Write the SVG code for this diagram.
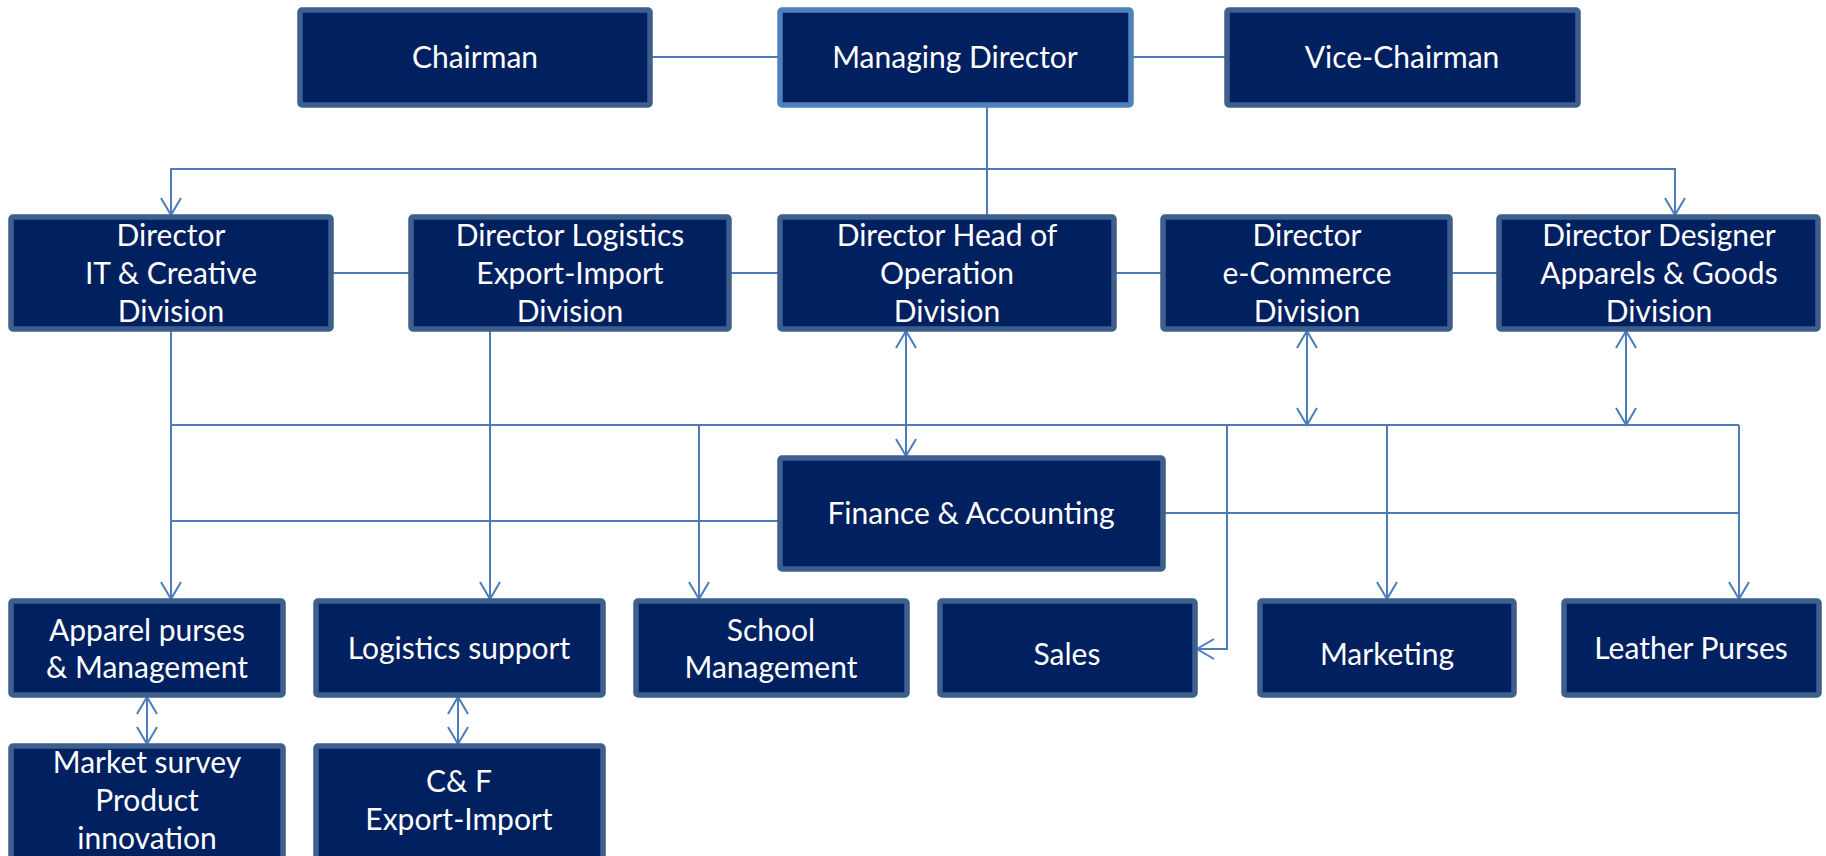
<svg xmlns="http://www.w3.org/2000/svg" width="1826" height="856" viewBox="0 0 1826 856">
<style>
.box{fill:#002060;stroke:#3c5f8d;stroke-width:5.5}
.md{stroke:#4f81bd}
.t{fill:#ffffff;font-family:Lato,"Open Sans","Liberation Sans",sans-serif;font-size:30px;text-anchor:middle}
.c{fill:none;stroke:#4a7ebb;stroke-width:2}
.a{marker-end:url(#arr)}
.d{marker-start:url(#arr);marker-end:url(#arr)}
</style>
<defs>
<marker id="arr" markerUnits="userSpaceOnUse" markerWidth="22" markerHeight="24" viewBox="0 0 22 24" refX="19" refY="12" orient="auto-start-reverse">
<path d="M2,2 L19,12 L2,22" fill="none" stroke="#4a7ebb" stroke-width="2"/>
</marker>
</defs>
<rect width="1826" height="856" fill="#ffffff"/>
<g id="connectors">
<line class="c" x1="652" y1="57" x2="780" y2="57"/>
<line class="c" x1="1131" y1="57" x2="1227" y2="57"/>
<line class="c" x1="987" y1="105" x2="987" y2="217"/>
<path class="c a" d="M987,169 H171 V215"/>
<path class="c a" d="M987,169 H1675 V215"/>
<line class="c" x1="331" y1="273" x2="411" y2="273"/>
<line class="c" x1="729" y1="273" x2="780" y2="273"/>
<line class="c" x1="1114" y1="273" x2="1163" y2="273"/>
<line class="c" x1="1450" y1="273" x2="1499" y2="273"/>
<path class="c a" d="M171,331 V599"/>
<path class="c a" d="M490,331 V599"/>
<line class="c" x1="171" y1="425" x2="1739" y2="425"/>
<path class="c a" d="M699,425 V599"/>
<path class="c d" d="M906,331 V456"/>
<path class="c d" d="M1307,331 V425"/>
<path class="c d" d="M1626,331 V425"/>
<path class="c a" d="M1227,425 V649 H1197"/>
<path class="c a" d="M1387,425 V599"/>
<path class="c a" d="M1739,425 V599"/>
<line class="c" x1="171" y1="521" x2="780" y2="521"/>
<line class="c" x1="1163" y1="513" x2="1739" y2="513"/>
<path class="c d" d="M147,697 V744"/>
<path class="c d" d="M458,697 V744"/>
</g>
<g id="chairman"><rect class="box" x="300" y="10" width="350" height="95" rx="2"/><text class="t" x="475" y="68">Chairman</text></g>
<g id="managing-director"><rect class="box md" x="780" y="10" width="351" height="95" rx="2"/><text class="t" x="955" y="68">Managing Director</text></g>
<g id="vice-chairman"><rect class="box" x="1227" y="10" width="351" height="95" rx="2"/><text class="t" x="1402" y="68">Vice-Chairman</text></g>
<g id="dir-it"><rect class="box" x="11" y="217" width="320" height="112" rx="2"/><text class="t" x="171" y="246">Director</text><text class="t" x="171" y="284">IT &amp; Creative</text><text class="t" x="171" y="322">Division</text></g>
<g id="dir-logistics"><rect class="box" x="411" y="217" width="318" height="112" rx="2"/><text class="t" x="570" y="246">Director Logistics</text><text class="t" x="570" y="284">Export-Import</text><text class="t" x="570" y="322">Division</text></g>
<g id="dir-operation"><rect class="box" x="780" y="217" width="334" height="112" rx="2"/><text class="t" x="947" y="246">Director Head of</text><text class="t" x="947" y="284">Operation</text><text class="t" x="947" y="322">Division</text></g>
<g id="dir-ecommerce"><rect class="box" x="1163" y="217" width="287" height="112" rx="2"/><text class="t" x="1307" y="246">Director</text><text class="t" x="1307" y="284">e-Commerce</text><text class="t" x="1307" y="322">Division</text></g>
<g id="dir-designer"><rect class="box" x="1499" y="217" width="319" height="112" rx="2"/><text class="t" x="1659" y="246">Director Designer</text><text class="t" x="1659" y="284">Apparels &amp; Goods</text><text class="t" x="1659" y="322">Division</text></g>
<g id="finance"><rect class="box" x="780" y="458" width="383" height="111" rx="2"/><text class="t" x="971" y="524">Finance &amp; Accounting</text></g>
<g id="apparel"><rect class="box" x="11" y="601" width="272" height="94" rx="2"/><text class="t" x="147" y="641">Apparel purses</text><text class="t" x="147" y="678">&amp; Management</text></g>
<g id="logistics-support"><rect class="box" x="316" y="601" width="287" height="94" rx="2"/><text class="t" x="459" y="659">Logistics support</text></g>
<g id="school"><rect class="box" x="636" y="601" width="271" height="94" rx="2"/><text class="t" x="771" y="641">School</text><text class="t" x="771" y="678">Management</text></g>
<g id="sales"><rect class="box" x="940" y="601" width="255" height="94" rx="2"/><text class="t" x="1067" y="665">Sales</text></g>
<g id="marketing"><rect class="box" x="1260" y="601" width="254" height="94" rx="2"/><text class="t" x="1387" y="665">Marketing</text></g>
<g id="leather"><rect class="box" x="1564" y="601" width="255" height="94" rx="2"/><text class="t" x="1691" y="659">Leather Purses</text></g>
<g id="market-survey"><rect class="box" x="11" y="746" width="272" height="140" rx="2"/><text class="t" x="147" y="773">Market survey</text><text class="t" x="147" y="811">Product</text><text class="t" x="147" y="849">innovation</text></g>
<g id="cf"><rect class="box" x="316" y="746" width="287" height="140" rx="2"/><text class="t" x="459" y="792">C&amp; F</text><text class="t" x="459" y="830">Export-Import</text></g>
</svg>
